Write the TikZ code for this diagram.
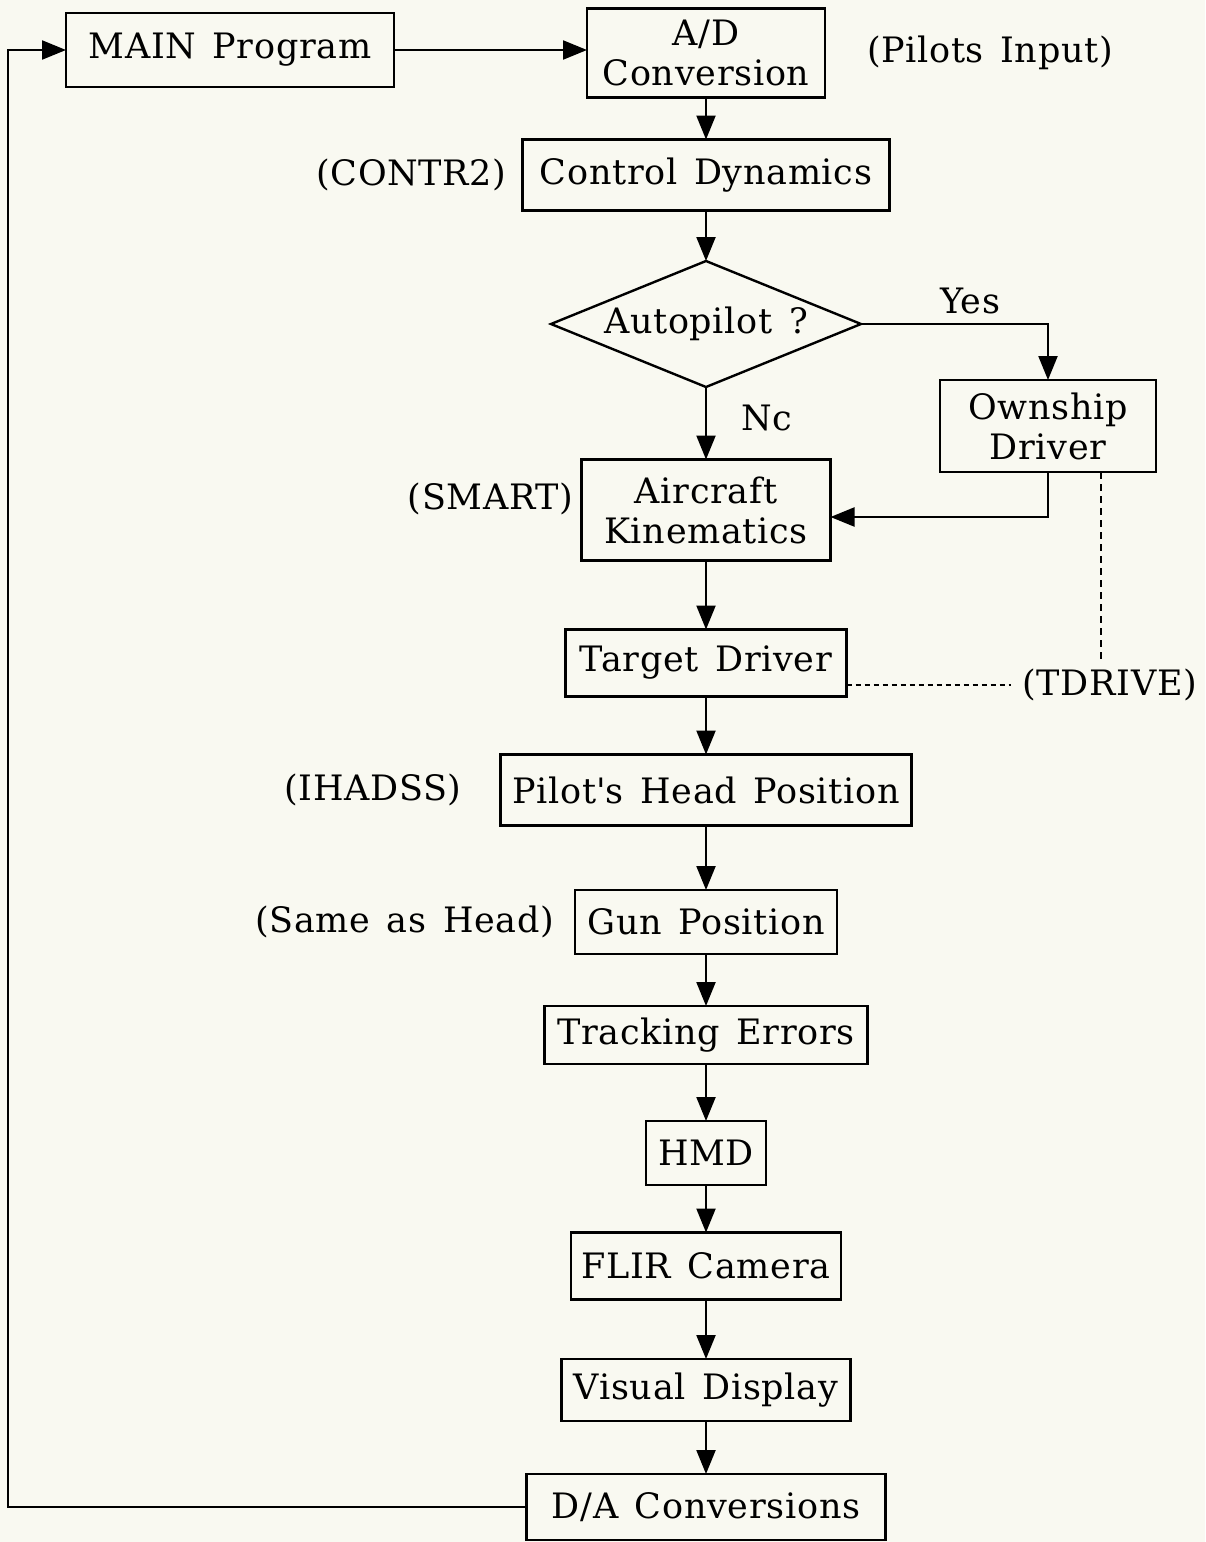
\documentclass[tikz,border=0pt]{standalone}
\usepackage{fontspec}
\setmainfont{DejaVu Serif}[LetterSpace=2,WordSpace=1.4]
\usetikzlibrary{positioning,shapes.geometric,arrows.meta}
\definecolor{paper}{RGB}{249,249,241}

\begin{document}
\begin{tikzpicture}
[x=1pt,y=-1pt,
 every node/.style={font=\fontsize{35}{40}\selectfont,inner sep=0pt,outer sep=0pt},
 blk/.style={rectangle,draw=black,line width=2.6pt,align=center},
 ask/.style={diamond,draw=black,line width=2.4pt,aspect=2.46},
 dotline/.style={line width=1.5pt,dash pattern=on 5pt off 4pt},
 dashline/.style={line width=1.5pt,dash pattern=on 7pt off 5pt},
 line width=2.2pt,
 >={Triangle[length=24pt,width=19pt]}]
\fill[paper] (0,0) rectangle (1205,1542);

\node[blk,minimum width=328pt,minimum height=74pt] (main) at (230,50) {MAIN Program};
\node[blk,minimum width=238pt,minimum height=89pt] (ad)   at (706,53) {A/D\\Conversion};
\node[blk,minimum width=367pt,minimum height=71pt]  (cd)   [on grid,below=122pt of ad] {Control Dynamics};
\node[ask,minimum width=310pt,minimum height=126pt] (ap)   [on grid,below=149pt of cd] {Autopilot ?};
\node[blk,minimum width=249pt,minimum height=101pt] (ak)   [on grid,below=186pt of ap] {Aircraft\\Kinematics};
\node[blk,minimum width=216pt,minimum height=92pt]  (od)   [on grid,below right=102pt and 342pt of ap] {Ownship\\Driver};
\node[blk,minimum width=281pt,minimum height=67pt]  (td)   [on grid,below=153pt of ak] {Target Driver};
\node[blk,minimum width=411pt,minimum height=71pt]  (ph)   [on grid,below=127pt of td] {Pilot\textquotesingle s Head Position};
\node[blk,minimum width=262pt,minimum height=64pt]  (gp)   [on grid,below=132pt of ph] {Gun Position};
\node[blk,minimum width=323pt,minimum height=58pt]  (te)   [on grid,below=113pt of gp] {Tracking Errors};
\node[blk,minimum width=120pt,minimum height=64pt]  (hmd)  [on grid,below=118pt of te] {HMD};
\node[blk,minimum width=270pt,minimum height=67pt]  (flir) [on grid,below=113pt of hmd] {FLIR Camera};
\node[blk,minimum width=289pt,minimum height=62pt]  (vd)   [on grid,below=124pt of flir] {Visual Display};
\node[blk,minimum width=359pt,minimum height=66pt]  (da)   [on grid,below=117pt of vd] {D/A Conversions};

% side notes
\node (pin)   [right=42pt of ad]  {(Pilots Input)};
\node (ctr)   [left=16pt of cd]   {(CONTR2)};
\node (yes)   [above right=10pt and 79pt of ap.east] {Yes};
\node (no)    [below right=18pt and 35pt of ap.south] {Nc};
\node (smart) [left=8pt of ak,yshift=11pt] {(SMART)};
\node (tdr)   [right=176pt of td,yshift=-22pt] {(TDRIVE)};
\node (ihd)   [left=39pt of ph]   {(IHADSS)};
\node (same)  [left=21pt of gp]   {(Same as Head)};

\path[->] (main.east) edge (main.east -| ad.west);
\path[->] (ad)   edge (cd);
\path[->] (cd)   edge (ap);
\path[->] (ap)   edge (ak);
\draw[->] (ap.east) -| (od.north);
\draw[->] (od.south) |- ([yshift=-7pt]ak.east);
\path[->] (ak)   edge (td);
\path[->] (td)   edge (ph);
\path[->] (ph)   edge (gp);
\path[->] (gp)   edge (te);
\path[->] (te)   edge (hmd);
\path[->] (hmd)  edge (flir);
\path[->] (flir) edge (vd);
\path[->] (vd)   edge (da);

% loop back to the main program
\coordinate (ret) at (8,1507);
\draw[->] (da.west) -- (ret) |- (main.west);

\draw[dotline]  (td.east |- tdr.west) -- ([xshift=-12pt]tdr.west);
\draw[dashline] ([xshift=-9pt]od.south -| tdr.north) -- ([xshift=-9pt,yshift=6pt]tdr.north);
\end{tikzpicture}
\end{document}
